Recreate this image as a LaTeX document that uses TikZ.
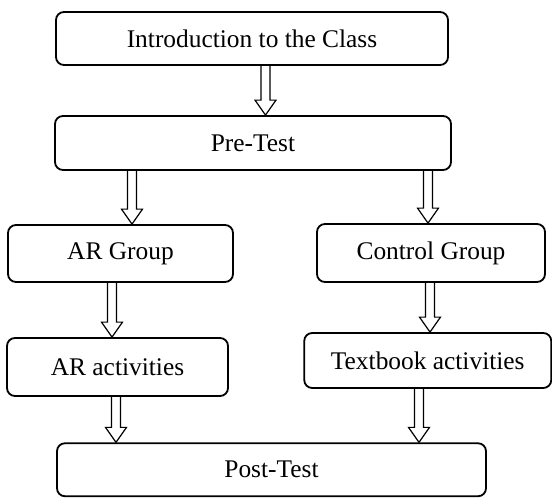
\documentclass[tikz,border=0pt]{standalone}
\usepackage{fontspec}
\setmainfont{Liberation Serif}
\usetikzlibrary{calc}

\tikzset{
	box/.style={draw, line width=0.9pt, rounded corners=4pt, inner sep=0pt, font=\fontsize{12.7}{15}\selectfont},
	hollow/.style={line width=0.6pt, to path={let \p1=(\tikztostart), \p2=(\tikztotarget) in
		(\x2-2.25pt,\y1) -- (\x2-2.25pt,\y2+7.5pt) -- (\x2-5.25pt,\y2+7.5pt) -- (\x2,\y2)
		-- (\x2+5.25pt,\y2+7.5pt) -- (\x2+2.25pt,\y2+7.5pt) -- (\x2+2.25pt,\y1)}}
}

\begin{document}
\begin{tikzpicture}[x=0.5pt, y=-0.5pt]
		\useasboundingbox (0, 0) rectangle (552, 498);

		\node[box, minimum width=196pt, minimum height=26.5pt] (intro) at (252, 38.5) {Introduction to the Class};
		\node[box, minimum width=198pt, minimum height=27pt] (pre) at (253, 143) {Pre-Test};

		\node[box, minimum width=112.5pt, minimum height=28.5pt] (arg) at (120.5, 253.5) {AR Group};
		\node[box, minimum width=114pt, minimum height=29pt] (ctl) at (431, 253) {Control Group};

		\node[box, minimum width=110.5pt, minimum height=29pt] (ara) at (117.5, 367) {AR activities};
		\node[box, minimum width=123.5pt, minimum height=27.5pt] (txt) at (427.75, 360.5) {Textbook activities};

		\node[box, minimum width=214.5pt, minimum height=26.5pt] (post) at (271.5, 469.75) {Post-Test};

		\coordinate (X1) at (265.5, 0);
		\coordinate (X2) at (132, 0);
		\coordinate (X3) at (428, 0);
		\coordinate (X4) at (112, 0);
		\coordinate (X5) at (430, 0);
		\coordinate (X6) at (116, 0);
		\coordinate (X7) at (419, 0);

		\draw[hollow] (intro.south -| X1) to (pre.north -| X1);
		\draw[hollow] (pre.south -| X2) to (arg.north -| X2);
		\draw[hollow] (pre.south -| X3) to (ctl.north -| X3);
		\draw[hollow] (arg.south -| X4) to (ara.north -| X4);
		\draw[hollow] (ctl.south -| X5) to (txt.north -| X5);
		\draw[hollow] (ara.south -| X6) to (post.north -| X6);
		\draw[hollow] (txt.south -| X7) to (post.north -| X7);
	\end{tikzpicture}
\end{document}
